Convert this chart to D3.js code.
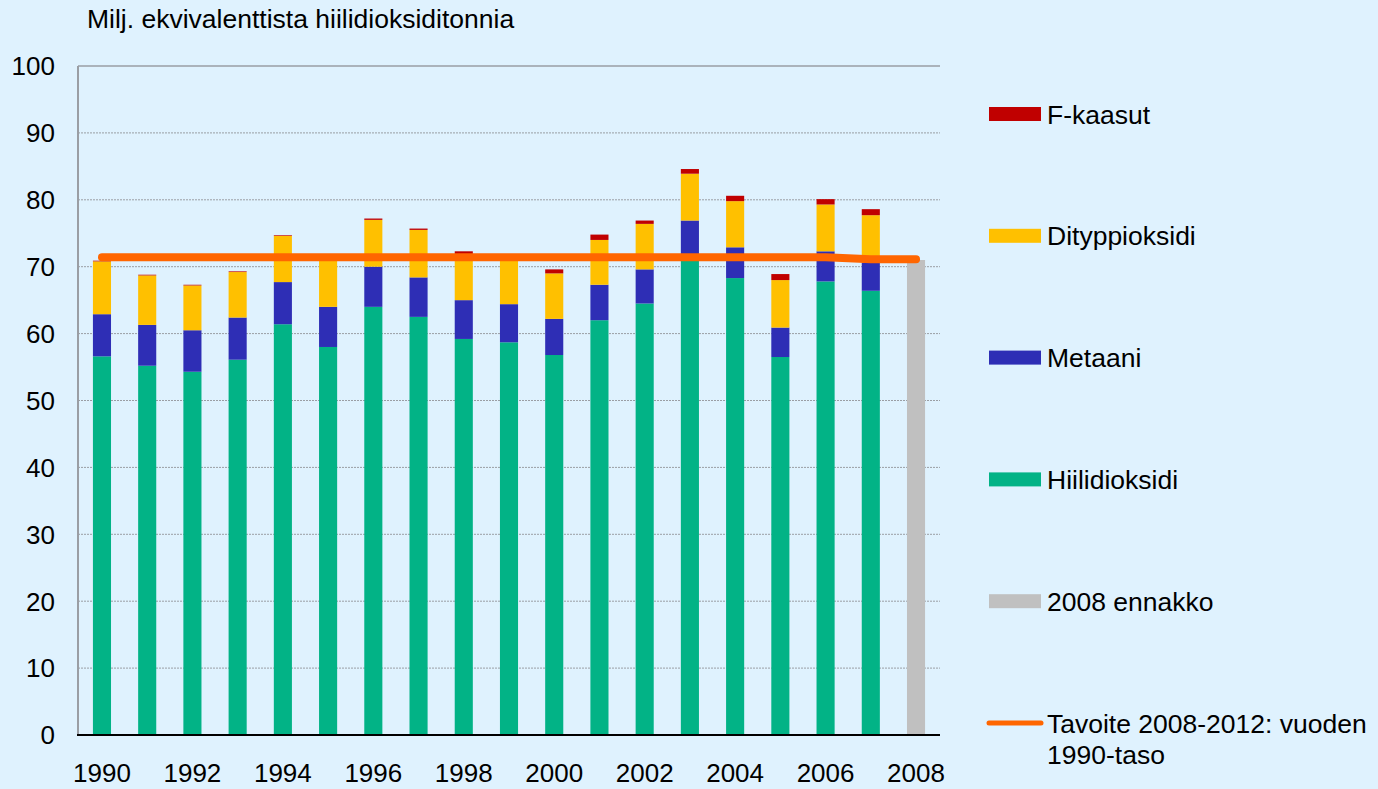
<!doctype html>
<meta charset='utf-8' />
<script src='https://cdn.jsdelivr.net/npm/d3@7'></script>
<style>
    body { margin: 0; background: #dff2fe; }
    text { font-family: 'Liberation Sans', Arial, sans-serif; fill: #000; }
</style>
<svg></svg>
<script>
    var width = 1378,
        height = 789,
        plotLeft = 78,
        plotRight = 940,
        plotTop = 66,
        plotBottom = 735

    // data (Mt CO2 eq.)
    var years = [1990, 1991, 1992, 1993, 1994, 1995, 1996, 1997, 1998, 1999,
        2000, 2001, 2002, 2003, 2004, 2005, 2006, 2007]
    var co2 = [56.6, 55.2, 54.3, 56.1, 61.4, 58.0, 64.0, 62.5, 59.2, 58.7,
        56.8, 62.0, 64.5, 71.2, 68.3, 56.5, 67.8, 66.4]
    var ch4 = [6.3, 6.1, 6.2, 6.3, 6.3, 6.0, 6.0, 5.9, 5.8, 5.7,
        5.4, 5.3, 5.1, 5.7, 4.6, 4.4, 4.5, 4.2]
    var n2o = [7.9, 7.4, 6.7, 6.8, 6.9, 7.2, 7.0, 7.1, 6.9, 6.7,
        6.8, 6.7, 6.8, 7.0, 6.9, 7.1, 7.0, 7.1]
    var fgas = [0.1, 0.1, 0.1, 0.1, 0.1, 0.1, 0.2, 0.2, 0.4, 0.2,
        0.6, 0.8, 0.5, 0.7, 0.8, 0.9, 0.8, 0.9]
    var prelimYear = 2008,
        prelimValue = 71.0
    var targetYears = [1990, 1991, 1992, 1993, 1994, 1995, 1996, 1997, 1998, 1999,
        2000, 2001, 2002, 2003, 2004, 2005, 2006, 2007, 2008]
    var targetValues = [71.4, 71.4, 71.4, 71.4, 71.4, 71.4, 71.4, 71.4, 71.4, 71.4,
        71.4, 71.4, 71.4, 71.4, 71.4, 71.4, 71.4, 71.1, 71.1]
    var yTicks = [0, 10, 20, 30, 40, 50, 60, 70, 80, 90, 100]
    var xLabels = [1990, 1992, 1994, 1996, 1998, 2000, 2002, 2004, 2006, 2008]

    var keys = ['co2', 'ch4', 'n2o', 'fgas']
    var colors = { co2: '#02b386', ch4: '#2e2eb5', n2o: '#ffc000', fgas: '#c00000' }
    var legend = [
        { name: 'F-kaasut', color: '#c00000' },
        { name: 'Dityppioksidi', color: '#ffc000' },
        { name: 'Metaani', color: '#2e2eb5' },
        { name: 'Hiilidioksidi', color: '#02b386' },
        { name: '2008 ennakko', color: '#c0c0c0' },
        { name: 'Tavoite 2008-2012: vuoden', name2: '1990-taso', color: '#ff6600', line: true }
    ]

    var rows = years.map((y, i) => ({ year: y, co2: co2[i], ch4: ch4[i], n2o: n2o[i], fgas: fgas[i] }))

    var svg = d3.select('svg')
        .attr('width', width)
        .attr('height', height)
        .style('display', 'block')

    svg.append('rect').attr('width', width).attr('height', height).attr('fill', '#dff2fe')

    var x = d3.scaleBand()
        .domain(targetYears)
        .range([plotLeft, plotRight])
        .paddingInner(0.6)
        .paddingOuter(0.33)

    var y = d3.scaleLinear()
        .domain([0, 100])
        .range([plotBottom, plotTop])

    // grid
    svg.append('g').selectAll('line')
        .data(yTicks.filter(t => t > 0 && t < 100))
        .enter()
        .append('line')
        .attr('x1', plotLeft).attr('x2', plotRight)
        .attr('y1', d => y(d)).attr('y2', d => y(d))
        .style('stroke', '#9a9ea4')
        .style('stroke-width', 1)
        .style('stroke-dasharray', '2,1')

    svg.append('line')
        .attr('x1', plotLeft).attr('x2', plotRight)
        .attr('y1', y(100)).attr('y2', y(100))
        .style('stroke', '#9a9ea4')
        .style('stroke-width', 1.5)

    svg.append('line')
        .attr('x1', plotLeft).attr('x2', plotLeft)
        .attr('y1', y(100)).attr('y2', y(0))
        .style('stroke', '#9a9ea4')
        .style('stroke-width', 2)

    // stacked bars
    var series = d3.stack().keys(keys)(rows)

    svg.append('g').selectAll('g')
        .data(series)
        .enter()
        .append('g')
        .style('fill', d => colors[d.key])
        .selectAll('rect')
        .data(d => d)
        .enter()
        .append('rect')
        .attr('x', d => x(d.data.year))
        .attr('width', x.bandwidth())
        .attr('y', d => y(d[1]))
        .attr('height', d => y(d[0]) - y(d[1]))

    svg.append('rect')
        .attr('x', x(prelimYear))
        .attr('width', x.bandwidth())
        .attr('y', y(prelimValue))
        .attr('height', y(0) - y(prelimValue))
        .style('fill', '#c0c0c0')

    // x axis line
    svg.append('line')
        .attr('x1', plotLeft - 1).attr('x2', plotRight)
        .attr('y1', y(0)).attr('y2', y(0))
        .style('stroke', '#000')
        .style('stroke-width', 2)

    // target line
    var line = d3.line()
        .x((d, i) => x(targetYears[i]) + x.bandwidth() / 2)
        .y(d => y(d))

    svg.append('path')
        .datum(targetValues)
        .attr('d', line)
        .style('fill', 'none')
        .style('stroke', '#ff6600')
        .style('stroke-width', 8)
        .style('stroke-linecap', 'round')
        .style('stroke-linejoin', 'round')

    // labels
    svg.append('g').selectAll('text')
        .data(yTicks)
        .enter()
        .append('text')
        .attr('x', 55)
        .attr('y', d => y(d))
        .attr('dy', '0.36em')
        .attr('text-anchor', 'end')
        .attr('font-size', 26)
        .text(d => d)

    svg.append('g').selectAll('text')
        .data(xLabels)
        .enter()
        .append('text')
        .attr('x', d => x(d) + x.bandwidth() / 2)
        .attr('y', 782)
        .attr('text-anchor', 'middle')
        .attr('font-size', 26)
        .text(d => d)

    svg.append('text')
        .attr('x', 87)
        .attr('y', 28)
        .attr('font-size', 26.5)
        .text('Milj. ekvivalenttista hiilidioksiditonnia')

    // legend
    var lg = svg.append('g').selectAll('g')
        .data(legend)
        .enter()
        .append('g')
        .attr('transform', (d, i) => 'translate(989,' + (114 + i * 121.8) + ')')

    lg.filter(d => !d.line)
        .append('rect')
        .attr('x', 0).attr('y', -7)
        .attr('width', 52).attr('height', 14)
        .style('fill', d => d.color)

    lg.filter(d => d.line)
        .append('line')
        .attr('x1', 0).attr('x2', 52)
        .attr('y1', 0).attr('y2', 0)
        .style('stroke', d => d.color)
        .style('stroke-width', 5)
        .style('stroke-linecap', 'round')

    lg.append('text')
        .attr('x', 58)
        .attr('y', 0)
        .attr('dy', '0.36em')
        .attr('font-size', 26.5)
        .text(d => d.name)

    lg.filter(d => d.name2)
        .append('text')
        .attr('x', 58)
        .attr('y', 31)
        .attr('dy', '0.36em')
        .attr('font-size', 26.5)
        .text(d => d.name2)
</script>
